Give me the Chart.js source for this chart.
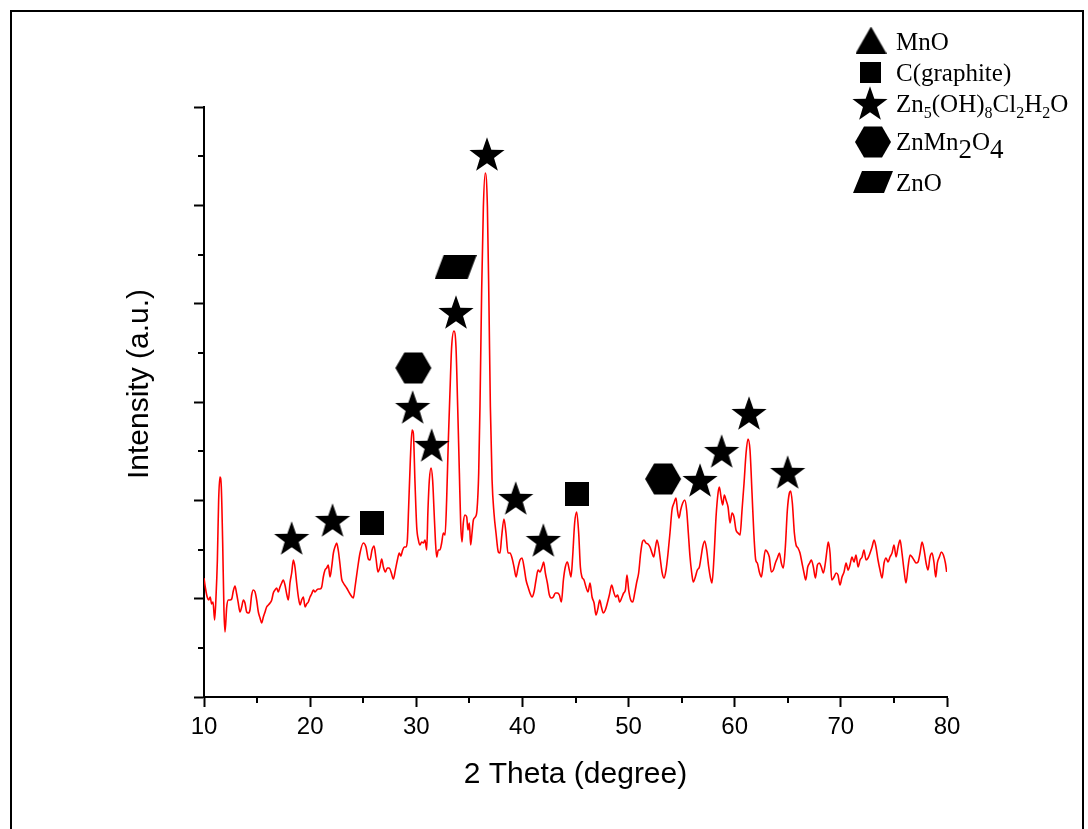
<!DOCTYPE html>
<html>
<head>
<meta charset="utf-8">
<script src="https://cdn.jsdelivr.net/npm/chart.js@4.4.0/dist/chart.umd.min.js"></script>
<style>
  body { margin: 0; background: #fff; }
  #wrap { position: relative; width: 1088px; height: 829px; overflow: hidden; background: #fff; }
  #frame { position: absolute; left: 10px; top: 10px; width: 1070px; height: 840px; border: 2px solid #000; }
  #xrd-chart { position: absolute; left: 0; top: 0; }
</style>
</head>
<body>
<div id="wrap">
  <div id="frame"></div>
  <canvas id="xrd-chart" width="1088" height="829"></canvas>
</div>
<script>
// XRD pattern (intensity in arbitrary units)
const twoTheta = [
  10.00, 10.15, 10.30, 10.45, 10.58, 10.72, 10.85, 11.00, 11.13, 11.26, 11.38, 11.50, 11.63, 11.76, 11.88, 11.98,
  12.14, 12.29, 12.45, 12.61, 12.76, 12.92, 13.08, 13.23, 13.39, 13.55, 13.71, 13.86, 14.02, 14.18, 14.33, 14.49,
  14.65, 14.81, 14.96, 15.12, 15.28, 15.43, 15.59, 15.75, 15.90, 16.06, 16.22, 16.38, 16.53, 16.69, 16.85, 17.00,
  17.16, 17.32, 17.47, 17.63, 17.79, 17.95, 18.10, 18.26, 18.42, 18.57, 18.73, 18.89, 19.05, 19.20, 19.36, 19.52,
  19.67, 19.83, 19.99, 20.14, 20.30, 20.46, 20.62, 20.77, 20.93, 21.09, 21.24, 21.40, 21.56, 21.71, 21.87, 22.03,
  22.19, 22.34, 22.50, 22.66, 22.81, 22.97, 23.13, 23.44, 23.76,
  24.07, 24.23, 24.45, 24.70, 25.01, 25.26, 25.48, 25.64, 25.83, 26.02, 26.20, 26.39, 26.58, 26.74, 26.90, 27.08,
  27.27, 27.46, 27.65, 27.84, 28.03, 28.22, 28.40, 28.53, 28.72, 28.87, 29.03, 29.16, 29.28, 29.44, 29.60, 29.72,
  29.88, 30.04, 30.20, 30.35, 30.51, 30.67, 30.82, 30.98, 31.10, 31.23, 31.39, 31.54, 31.67, 31.80, 31.92, 32.08,
  32.23, 32.39, 32.55, 32.71,
  32.86, 33.02, 33.18, 33.33, 33.55, 33.74, 33.90, 34.06, 34.18, 34.31, 34.43, 34.59, 34.75, 34.87, 35.00, 35.12,
  35.25, 35.38, 35.56, 35.72, 35.88, 36.00, 36.16, 36.32, 36.50, 36.70, 36.85, 36.98, 37.14, 37.32, 37.51, 37.73,
  37.89, 38.04, 38.26, 38.45, 38.64, 38.83, 39.02, 39.21, 39.40, 39.58, 39.77, 39.96, 40.15, 40.34, 40.53, 40.71,
  40.90, 41.09, 41.28, 41.47, 41.66, 41.85, 42.00, 42.16, 42.35, 42.54, 42.72, 42.91, 43.10, 43.29, 43.48, 43.67,
  43.86, 44.04, 44.23, 44.42, 44.58, 44.73, 44.92, 45.11, 45.30, 45.46, 45.61, 45.80, 45.99, 46.18, 46.37, 46.56,
  46.75, 46.93, 47.12, 47.28, 47.44, 47.62, 47.81, 48.00, 48.19, 48.41, 48.60, 48.79, 48.97, 49.16, 49.35, 49.54,
  49.70, 49.85, 50.01, 50.20, 50.39, 50.58, 50.77, 50.95, 51.14,
  51.30, 51.45, 51.64, 51.83, 52.02, 52.21, 52.37, 52.52, 52.68, 52.84, 53.00, 53.15, 53.34, 53.53, 53.72, 53.90,
  54.09, 54.28, 54.47, 54.60, 54.75, 54.91, 55.10, 55.29, 55.47, 55.63, 55.79, 55.95, 56.10, 56.29, 56.48, 56.67,
  56.83, 56.98, 57.17, 57.36, 57.55, 57.70, 57.86, 58.05, 58.24, 58.43, 58.55, 58.71, 58.87, 59.02, 59.18, 59.37,
  59.56, 59.75, 59.93, 60.12, 60.31, 60.50, 60.69, 60.88, 61.07, 61.25, 61.44, 61.63, 61.80, 61.98,
  62.13, 62.32, 62.51, 62.70, 62.89, 63.08, 63.26, 63.45, 63.64, 63.83, 64.02, 64.21, 64.39, 64.58, 64.77, 64.96,
  65.15, 65.27, 65.43, 65.62, 65.78, 65.96, 66.15, 66.34, 66.53, 66.69, 66.88, 67.06, 67.22, 67.41, 67.60, 67.79,
  67.98, 68.16, 68.35, 68.54, 68.73, 68.82, 68.98, 69.14, 69.36, 69.55, 69.73, 69.92, 70.11, 70.30, 70.49, 70.68,
  70.86, 71.05, 71.24, 71.43, 71.62, 71.81, 72.00, 72.18, 72.37, 72.56, 72.75, 72.94, 73.13, 73.31, 73.50, 73.69,
  73.88, 74.07, 74.26, 74.44, 74.63, 74.82, 75.01, 75.20, 75.39, 75.58, 75.76, 75.95, 76.14, 76.33, 76.52, 76.71,
  76.89, 77.08, 77.27, 77.46, 77.65, 77.84, 78.03, 78.21, 78.40, 78.59, 78.78, 78.94, 79.09, 79.28, 79.47, 79.66,
  79.85, 79.97
];
const intensity = [
  119, 108, 100, 97, 100, 93, 95, 77, 100, 137, 197, 220, 210, 154, 87, 65,
  90, 97, 97, 98, 106, 111, 103, 94, 85, 90, 97, 94, 85, 84, 87, 102,
  107, 105, 97, 85, 79, 74, 80, 85, 90, 92, 94, 97, 104, 107, 109, 105,
  110, 114, 117, 112, 103, 97, 114, 124, 137, 130, 114, 100, 92, 97, 100, 90,
  93, 95, 100, 103, 107, 105, 107, 108, 108, 110, 120, 127, 129, 132, 120, 130,
  144, 150, 154, 146, 133, 118, 114, 109, 103,
  99, 110, 127, 144, 154, 150, 138, 137, 147, 151, 139, 125, 130, 138, 130, 125,
  129, 129, 124, 118, 127, 137, 144, 141, 147, 150, 150, 157, 190, 237, 267, 264,
  214, 170, 157, 152, 155, 154, 157, 147, 187, 217, 229, 217, 187, 157, 140, 147,
  147, 154, 164, 162,
  197, 257, 307, 350, 366, 350, 290, 224, 174, 155, 174, 182, 180, 167, 174, 152,
  164, 177, 180, 187, 224, 290, 407, 490, 524, 490, 390, 290, 217, 184, 164, 145,
  144, 160, 178, 164, 144, 144, 139, 130, 120, 129, 137, 139, 130, 117, 110, 104,
  100, 105, 117, 127, 125, 130, 135, 124, 114, 102, 99, 100, 104, 104, 102, 95,
  117, 130, 135, 127, 120, 140, 174, 185, 164, 130, 120, 117, 110, 105, 114, 100,
  94, 82, 89, 97, 90, 84, 87, 94, 102, 112, 105, 100, 102, 95, 99, 104,
  107, 122, 107, 97, 95, 104, 115, 124, 144,
  155, 157, 154, 153, 150, 144, 140, 149, 157, 150, 137, 125, 119, 127, 144, 164,
  187, 194, 199, 187, 179, 187, 194, 197, 187, 164, 140, 124, 115, 120, 127, 130,
  140, 150, 156, 147, 130, 120, 114, 140, 180, 204, 210, 200, 192, 202, 197, 190,
  174, 184, 180, 167, 164, 162, 187, 214, 244, 258, 247, 204, 164, 137,
  134, 125, 120, 134, 147, 145, 140, 125, 127, 134, 139, 144, 134, 129, 150, 187,
  204, 206, 194, 164, 152, 149, 144, 134, 124, 117, 130, 134, 137, 130, 119, 132,
  134, 130, 124, 134, 150, 155, 144, 117, 120, 124, 122, 112, 120, 125, 134, 127,
  132, 140, 135, 142, 130, 137, 140, 147, 137, 139, 144, 150, 157, 150, 137, 127,
  119, 134, 139, 135, 140, 144, 152, 140, 150, 157, 144, 127, 114, 130, 142, 140,
  137, 134, 135, 144, 155, 147, 134, 127, 140, 144, 134, 120, 134, 140, 145, 142,
  134, 125
];

// phase markers above the peaks
const starTheta = [18.26, 22.11, 29.66, 31.45, 33.74, 36.66, 39.37, 41.97, 56.73, 58.77, 61.35, 64.99];
const starY = [159, 177, 290, 252, 385, 543, 199, 157, 217, 246, 284, 225];
const graphiteTheta = [25.8, 45.17];
const graphiteY = [174, 203];
const spinelTheta = [29.72, 53.25];
const spinelY = [329, 218];
const znoTheta = [33.71];
const znoY = [430];

const phaseNames = ['MnO', 'C(graphite)', 'Zn5(OH)8Cl2H2O', 'ZnMn2O4', 'ZnO'];

const xMajorTicks = [10, 20, 30, 40, 50, 60, 70, 80];
const xMinorTicks = [15, 25, 35, 45, 55, 65, 75];
const yMajorTicks = [0, 98.3, 196.7, 295, 393.3, 491.7, 590];
const yMinorTicks = [49.2, 147.5, 245.8, 344.2, 442.5, 540.8];

function makeIcon(w, h, pathFn) {
  const c = document.createElement('canvas');
  c.width = w;
  c.height = h;
  const g = c.getContext('2d');
  g.fillStyle = '#000';
  g.beginPath();
  pathFn(g, w, h);
  g.closePath();
  g.fill();
  return c;
}

function starPath(g, w, h) {
  const R = 18.5, r = R * 0.4;
  const cx = w / 2, cy = h / 2 + 0.0955 * R;
  for (let i = 0; i < 10; i++) {
    const a = -Math.PI / 2 + i * Math.PI / 5;
    const rad = i % 2 === 0 ? R : r;
    g.lineTo(cx + rad * Math.cos(a), cy + rad * Math.sin(a));
  }
}
function hexPath(g, w, h) {
  const R = 18;
  for (let i = 0; i < 6; i++) {
    const a = i * Math.PI / 3;
    g.lineTo(w / 2 + R * Math.cos(a), h / 2 + R * Math.sin(a));
  }
}
function skewPath(skew) {
  return (g, w, h) => {
    g.moveTo(skew, 0);
    g.lineTo(w, 0);
    g.lineTo(w - skew, h);
    g.lineTo(0, h);
  };
}
function rectPath(g, w, h) { g.rect(0, 0, w, h); }
function triPath(g, w, h) {
  g.moveTo(w / 2, 0);
  g.lineTo(w, h);
  g.lineTo(0, h);
}

const starIcon = makeIcon(38, 36, starPath);
const hexIcon = makeIcon(38, 34, hexPath);
const squareIcon = makeIcon(24, 24, rectPath);
const znoIcon = makeIcon(42, 24, skewPath(9));
const legendSquare = makeIcon(21, 21, rectPath);
const legendZno = makeIcon(40, 22, skewPath(9));
const legendTri = makeIcon(31, 27, triPath);

function toPoints(xs, ys) {
  return xs.map((x, i) => ({ x: x, y: ys[i] }));
}

// draws a chemical formula, digits as subscripts
function drawFormula(ctx, text, x, y, bigSub) {
  for (const ch of text) {
    const isDigit = ch >= '0' && ch <= '9';
    if (isDigit && bigSub) {
      ctx.font = '27px "Liberation Serif"';
      ctx.fillText(ch, x, y + 8);
    } else if (isDigit) {
      ctx.font = '16px "Liberation Serif"';
      ctx.fillText(ch, x, y + 6);
    } else {
      ctx.font = '25px "Liberation Serif"';
      ctx.fillText(ch, x, y);
    }
    x += ctx.measureText(ch).width;
  }
}

const phaseLegend = {
  id: 'phaseLegend',
  afterDraw(chart) {
    const ctx = chart.ctx;
    const rows = [
      { icon: legendTri, cx: 871, cy: 40, ty: 50, big: false },
      { icon: legendSquare, cx: 870, cy: 72, ty: 81, big: false },
      { icon: starIcon, cx: 870, cy: 103, ty: 112, big: false },
      { icon: hexIcon, cx: 873, cy: 142, ty: 150, big: true },
      { icon: legendZno, cx: 873, cy: 182, ty: 191, big: false }
    ];
    ctx.save();
    ctx.fillStyle = '#000';
    ctx.textBaseline = 'alphabetic';
    ctx.textAlign = 'left';
    rows.forEach((row, i) => {
      ctx.drawImage(row.icon, row.cx - row.icon.width / 2, row.cy - row.icon.height / 2);
      drawFormula(ctx, phaseNames[i], 896, row.ty, row.big);
    });
    ctx.restore();
  }
};

// minor ticks and the y title (set a little above the axis centre, as in the source)
const axisExtras = {
  id: 'axisExtras',
  afterDraw(chart) {
    const ctx = chart.ctx;
    const area = chart.chartArea;
    ctx.save();
    ctx.strokeStyle = '#000';
    ctx.lineWidth = 2;
    ctx.beginPath();
    xMinorTicks.forEach(v => {
      const px = Math.round(chart.scales.x.getPixelForValue(v));
      ctx.moveTo(px, area.bottom);
      ctx.lineTo(px, area.bottom + 6);
    });
    yMinorTicks.forEach(v => {
      const py = Math.round(chart.scales.y.getPixelForValue(v));
      ctx.moveTo(area.left, py);
      ctx.lineTo(area.left - 6, py);
    });
    ctx.stroke();
    ctx.translate(140, 384);
    ctx.rotate(-Math.PI / 2);
    ctx.fillStyle = '#000';
    ctx.font = '30px "Liberation Sans", Arial';
    ctx.textAlign = 'center';
    ctx.textBaseline = 'middle';
    ctx.fillText('Intensity (a.u.)', 0, 0);
    ctx.restore();
  }
};

const canvasXrd = document.getElementById('xrd-chart');
new Chart(canvasXrd, {
  type: 'scatter',
  data: {
    datasets: [
      { label: 'Zn5(OH)8Cl2H2O', data: toPoints(starTheta, starY), pointStyle: starIcon, pointRadius: 10 },
      { label: 'C(graphite)', data: toPoints(graphiteTheta, graphiteY), pointStyle: squareIcon, pointRadius: 10 },
      { label: 'ZnMn2O4', data: toPoints(spinelTheta, spinelY), pointStyle: hexIcon, pointRadius: 10 },
      { label: 'ZnO', data: toPoints(znoTheta, znoY), pointStyle: znoIcon, pointRadius: 10 },
      {
        label: 'XRD',
        data: toPoints(twoTheta, intensity),
        showLine: true,
        borderColor: '#ff0000',
        borderWidth: 1.6,
        pointRadius: 0,
        cubicInterpolationMode: 'monotone'
      }
    ]
  },
  options: {
    responsive: false,
    animation: false,
    layout: { padding: { left: 104, top: 107, right: 141, bottom: 22 } },
    plugins: {
      legend: { display: false },
      tooltip: { enabled: false }
    },
    scales: {
      x: {
        type: 'linear',
        min: 10,
        max: 80,
        afterBuildTicks: axis => { axis.ticks = xMajorTicks.map(v => ({ value: v })); },
        afterFit: scale => { scale.height = 110; },
        border: { display: true, color: '#000', width: 2 },
        grid: { drawOnChartArea: false, drawTicks: true, tickLength: 10, tickColor: '#000', tickWidth: 2 },
        ticks: { color: '#000', padding: 6, font: { family: '"Liberation Sans", Arial', size: 24 } },
        title: {
          display: true,
          text: '2 Theta (degree)',
          color: '#000',
          padding: { bottom: 14 },
          font: { family: '"Liberation Sans", Arial', size: 30 }
        }
      },
      y: {
        min: 0,
        max: 590,
        afterBuildTicks: axis => { axis.ticks = yMajorTicks.map(v => ({ value: v })); },
        afterFit: scale => { scale.width = 100; },
        border: { display: true, color: '#000', width: 2 },
        grid: { drawOnChartArea: false, drawTicks: true, tickLength: 10, tickColor: '#000', tickWidth: 2 },
        ticks: { display: false },
        title: { display: false }
      }
    }
  },
  plugins: [phaseLegend, axisExtras]
});
</script>
</body>
</html>
